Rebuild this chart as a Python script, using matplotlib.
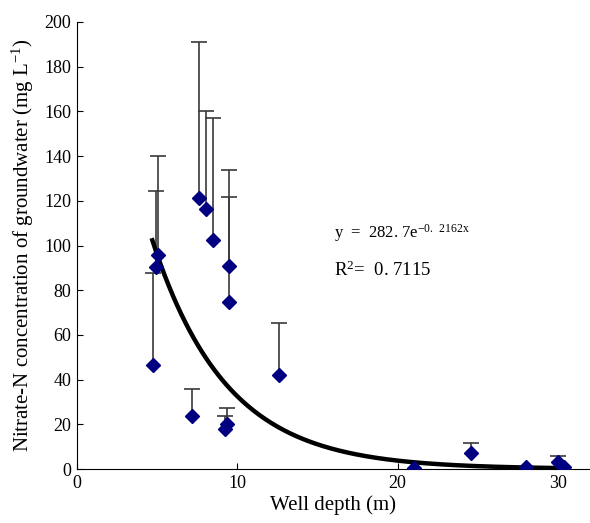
import numpy as np
import matplotlib.pyplot as plt

plt.rcParams['font.family'] = ['Liberation Serif', 'DejaVu Serif']
plt.rcParams['mathtext.fontset'] = 'custom'
plt.rcParams['mathtext.rm'] = 'Liberation Serif'
plt.rcParams['mathtext.default'] = 'regular'

# well depth (m), nitrate-N (mg/L) and top of the error bar
depth = [4.73, 4.95, 5.05, 7.16, 7.6, 8.03, 8.46, 9.5, 9.5, 9.25, 9.35, 12.57, 21.0, 24.6, 28.0, 30.0, 30.4]
nitrate = [46.5, 90.5, 95.7, 23.7, 121.3, 116.3, 102.5, 90.8, 74.7, 18.0, 20.1, 42.0, 0.3, 7.0, 0.8, 3.0, 1.0]
bar_top = [87.7, 124.5, 140.0, 35.8, 191.0, 160.2, 157.0, 133.8, 121.7, 23.7, 27.3, 65.3, 0.3, 11.6, 0.8, 5.8, 1.0]

# exponential trendline as printed on the chart
fit_a = 282.7
fit_b = -0.2162
fit_x = np.linspace(4.7, 30.2, 200)
fit_y = fit_a * np.exp(fit_b * fit_x)

has_bar = [t > v for t, v in zip(bar_top, nitrate)]
bx = [d for d, h in zip(depth, has_bar) if h]
by0 = [v for v, h in zip(nitrate, has_bar) if h]
by1 = [t for t, h in zip(bar_top, has_bar) if h]

fig = plt.figure(figsize=(5.9, 5.23), dpi=100)
ax = fig.add_axes([77 / 590, 54 / 523, 513 / 590, 447 / 523])

# upper-only error bars
ax.vlines(bx, by0, by1, color='#3a3a3a', linewidth=1.2, zorder=2)
ax.plot(bx, by1, linestyle='none', marker='_', markersize=11, markeredgewidth=1.2,
        color='#3a3a3a', zorder=2)

ax.plot(fit_x, fit_y, color='black', linewidth=3.2, zorder=3)
ax.plot(depth, nitrate, linestyle='none', marker='D', markersize=7,
        color='#000080', zorder=4)

ax.set_xlim(0, 32)
ax.set_ylim(0, 200)
ax.set_xticks([0, 10, 20, 30])
ax.set_yticks(range(0, 201, 20))
ax.tick_params(direction='in', length=4, labelsize=13, pad=4)
ax.spines['top'].set_visible(False)
ax.spines['right'].set_visible(False)

ax.set_xlabel('Well depth (m)', fontsize=15, labelpad=3)
ax.set_ylabel('Nitrate-N concentration of groundwater (mg L$^{-1}$)', fontsize=15, labelpad=6)

ax.text(16.0, 103.5, 'y  =  282. 7e$^{-0.\\ 2162x}$', fontsize=12)
ax.text(16.0, 86.5, 'R$^2$=  0. 7115', fontsize=13.5)

fig.savefig('out.png', dpi=100)
